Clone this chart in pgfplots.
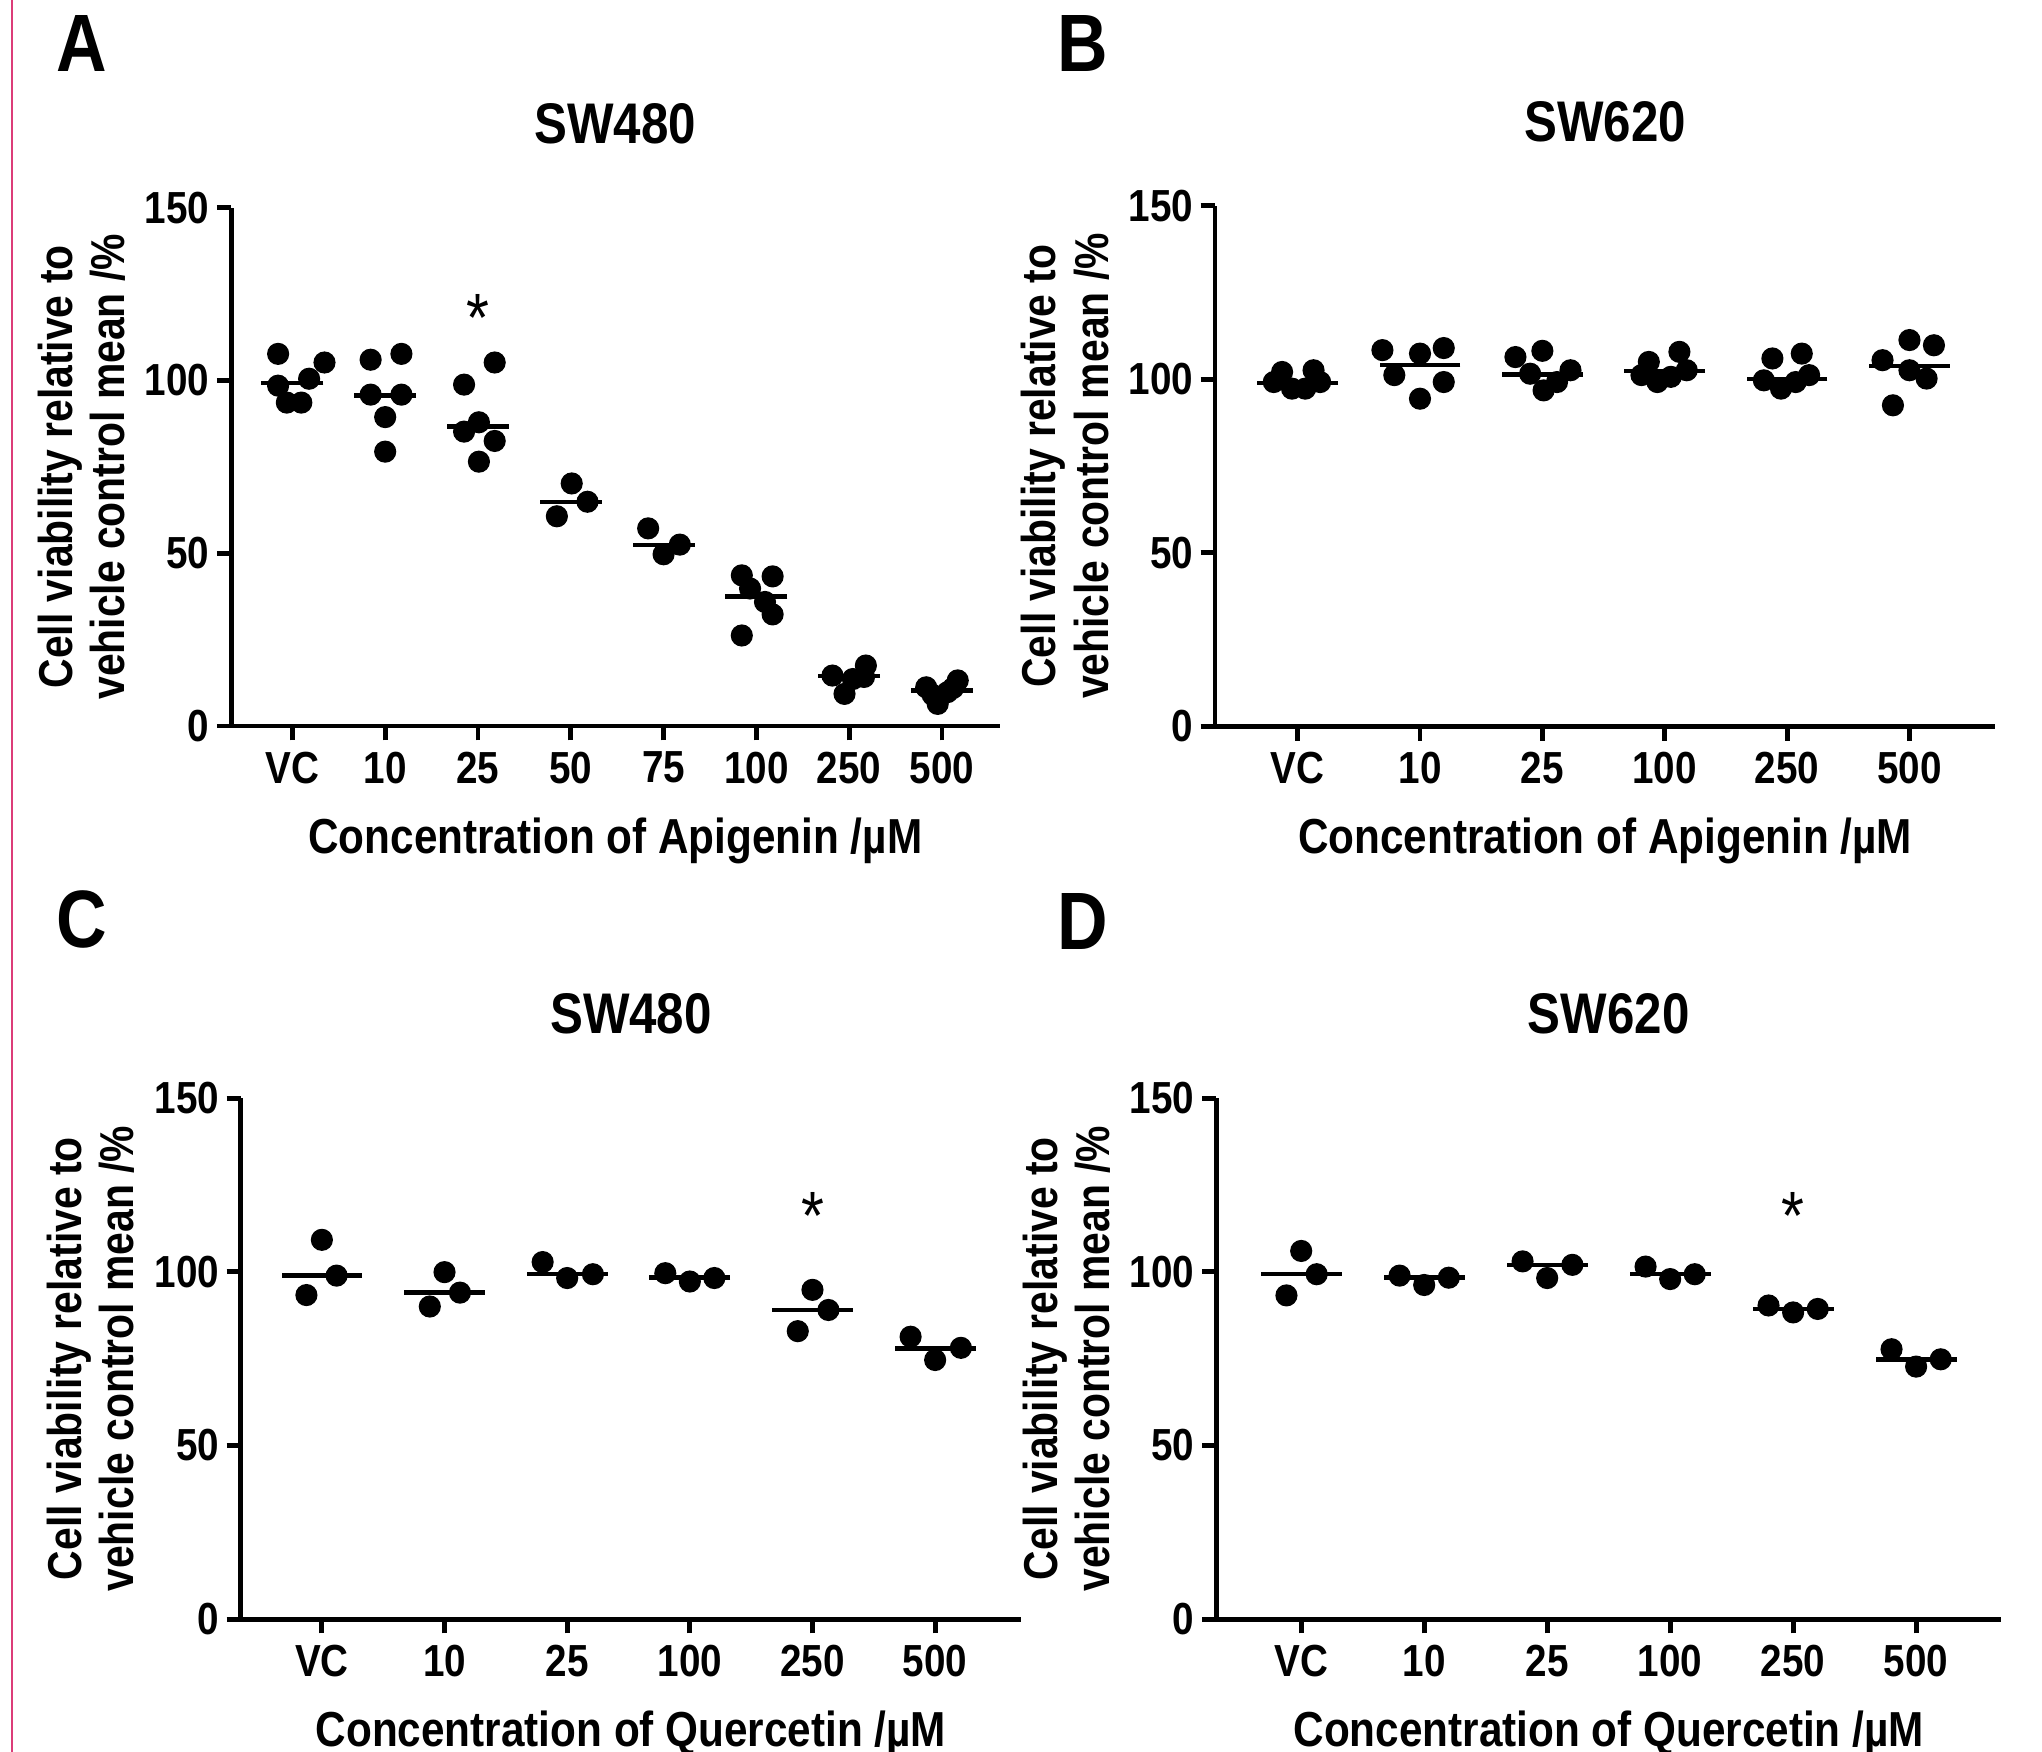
\documentclass[border=0pt]{standalone}
\usepackage{fontspec}
\setmainfont[FakeStretch=0.86]{Liberation Sans}
\usepackage{pgfplots}
\pgfplotsset{compat=1.18}
\definecolor{pinkline}{RGB}{220,60,120}

\pgfplotsset{
  panel/.style={
    scale only axis, clip=false,
    axis lines=left,
    axis line style={-, line width=1.5pt},
    ymin=0, ymax=150, ytick={0,50,100,150},
    tick align=outside, major tick length=4.4pt,
    tick style={black, line width=1.5pt},
    tick label style={font=\fontsize{13.8}{16}\bfseries\selectfont},
    yticklabel style={xshift=1.2pt},
    /pgf/number format/assume math mode=true,
    ylabel={Cell viability relative to\\vehicle control mean /\%},
    ylabel style={align=center, anchor=center, font=\fontsize{14.6}{16}\bfseries\selectfont},
    xlabel style={at={(axis description cs:0.5,0)}, anchor=center, yshift=-35.2pt,
      font=\fontsize{15.1}{18}\bfseries\selectfont},
    title style={at={(axis description cs:0.5,1)}, anchor=center, yshift=19.8pt,
      font=\fontsize{17.6}{20}\bfseries\selectfont},
  },
  dots/.style={only marks, mark=*, mark size=3.2pt, black},
  med/.style={only marks, mark=-, black, mark options={line width=1.35pt}},
}
\newcommand{\signif}{\fontsize{21}{21}\selectfont *}

\begin{document}
\begin{tikzpicture}
\useasboundingbox (0,0) rectangle (627.2pt,538pt);
\draw[pinkline, line width=0.6pt] (3.6pt,0) -- (3.6pt,538pt);

% A: SW480, apigenin
\begin{axis}[panel, at={(71.0pt,315.0pt)}, anchor=south west,
  width=236pt, height=159.2pt, xmin=-0.66, xmax=7.62,
  xtick={0,...,7}, xticklabels={VC,10,25,50,75,100,250,500},
  title={SW480}, xlabel={Concentration of Apigenin /µM},
  ylabel style={at={(axis description cs:-0.195,0.5)}}]
\addplot[dots] table {
x y
-0.154 107.7
0.346 105.2
0.18 100.5
-0.154 98.5
-0.06 93.6
0.096 93.6
0.843 106.0
1.175 107.7
0.843 95.9
1.175 95.9
1.0 89.4
1.0 79.4
1.85 98.8
2.18 105.2
2.01 87.9
1.85 85.2
2.18 82.5
2.01 76.5
3.01 70.2
3.18 64.9
2.85 60.7
3.834 57.2
4.175 52.5
4.0 49.7
4.843 43.6
5.175 43.3
4.932 39.8
5.093 35.9
5.175 32.3
4.843 26.2
5.82 14.6
5.95 9.3
6.04 13.6
6.18 17.5
6.16 14.2
6.83 11.2
6.90 9.0
6.954 6.4
7.06 9.8
7.17 13.2
7.12 11.0
};
\addplot[med, mark size=9.5pt] table {
x y
0 99.2
1 95.7
2 86.7
3 64.8
4 52.3
5 37.5
6 14.4
7 10.3
};
\node[anchor=base, yshift=-12pt] at (axis cs:2,122.5) {\signif};
\end{axis}

% B: SW620, apigenin
\begin{axis}[panel, at={(373.2pt,314.9pt)}, anchor=south west,
  width=239.6pt, height=159.9pt, xmin=-0.675, xmax=5.7,
  xtick={0,...,5}, xticklabels={VC,10,25,100,250,500},
  title={SW620}, xlabel={Concentration of Apigenin /µM},
  ylabel style={at={(axis description cs:-0.192,0.5)}}]
\addplot[dots] table {
x y
-0.127 102.1
0.13 102.6
-0.195 99.2
-0.046 97.3
0.062 97.3
0.184 99.2
0.693 108.4
1.0 107.4
1.194 109.0
0.79 101.2
1.194 99.2
1.0 94.4
1.78 106.4
2.0 108.2
1.9 101.6
2.01 96.8
2.12 99.2
2.23 102.6
2.87 105.0
3.12 107.9
2.81 101.2
2.94 99.2
3.05 100.7
3.18 102.6
3.88 106.0
4.12 107.4
3.81 99.7
3.95 97.3
4.07 99.2
4.18 101.2
5.0 111.3
5.2 109.8
4.78 105.5
5.0 102.6
5.14 100.2
4.865 92.5
};
\addplot[med, mark size=12.4pt] table {
x y
0 98.9
1 104.2
2 101.4
3 102.3
4 100.0
5 103.8
};
\end{axis}

% C: SW480, quercetin
\begin{axis}[panel, at={(74.0pt,40.7pt)}, anchor=south west,
  width=239.6pt, height=160pt, xmin=-0.66, xmax=5.7,
  xtick={0,...,5}, xticklabels={VC,10,25,100,250,500},
  title={SW480}, xlabel={Concentration of Quercetin /µM},
  ylabel style={at={(axis description cs:-0.192,0.5)}}]
\addplot[dots] table {
x y
0 109.2
0.12 98.9
-0.126 93.3
1.0 99.9
1.126 94.0
0.88 90.0
1.8 102.8
2.0 98.2
2.21 99.3
2.8 99.6
3.0 97.2
3.2 98.2
4.0 94.8
4.13 89.0
3.88 82.9
4.8 81.3
5.0 74.6
5.21 78.1
};
\addplot[med, mark size=12.4pt] table {
x y
0 98.9
1 94.0
2 99.3
3 98.3
4 89.0
5 77.9
};
\node[anchor=base, yshift=-12pt] at (axis cs:4,120.5) {\signif};
\end{axis}

% D: SW620, quercetin
\begin{axis}[panel, at={(373.6pt,40.7pt)}, anchor=south west,
  width=241pt, height=160pt, xmin=-0.69, xmax=5.69,
  xtick={0,...,5}, xticklabels={VC,10,25,100,250,500},
  title={SW620}, xlabel={Concentration of Quercetin /µM},
  ylabel style={at={(axis description cs:-0.191,0.5)}}]
\addplot[dots] table {
x y
0 106.0
0.126 99.3
-0.12 93.2
0.8 98.9
1.0 96.2
1.2 98.3
1.8 103.0
2.0 98.2
2.205 102.0
2.8 101.5
3.0 97.9
3.2 99.3
3.8 90.3
4.0 88.3
4.2 89.3
4.8 77.7
5.0 72.7
5.2 74.8
};
\addplot[med, mark size=12.4pt] table {
x y
0 99.3
1 98.3
2 102.0
3 99.3
4 89.3
5 74.8
};
\node[anchor=base, yshift=-12pt] at (axis cs:4,120.5) {\signif};
\end{axis}

\node[font=\fontsize{25}{25}\bfseries\selectfont] at (25pt,524.5pt) {A};
\node[font=\fontsize{25}{25}\bfseries\selectfont] at (332.6pt,524.5pt) {B};
\node[font=\fontsize{25}{25}\bfseries\selectfont] at (25pt,255.5pt) {C};
\node[font=\fontsize{25}{25}\bfseries\selectfont] at (332.6pt,255pt) {D};
\end{tikzpicture}
\end{document}
